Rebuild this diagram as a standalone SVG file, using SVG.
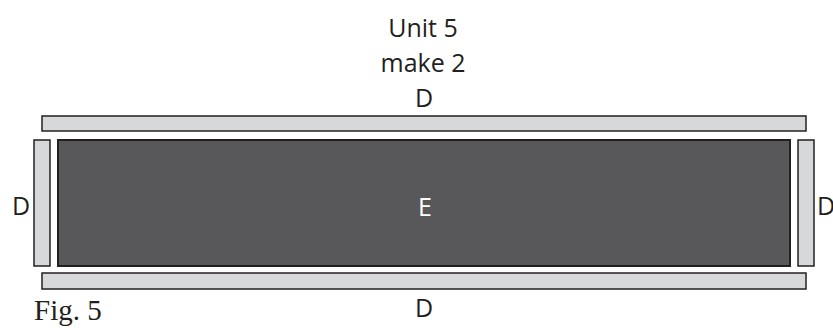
<svg xmlns="http://www.w3.org/2000/svg" width="833" height="328" viewBox="0 0 833 328">
<style>
.bar{fill:#d7d8da;stroke:#231f20;stroke-width:1.5}
.main{fill:#58585a;stroke:#231f20;stroke-width:2}
.lbl{font-family:"Open Sans","Liberation Sans",Arial,sans-serif;font-size:25px;fill:#231f20;text-anchor:middle}
.fig{font-family:"Liberation Serif","Times New Roman",serif;font-size:29px;fill:#231f20}
</style>
<rect width="833" height="328" fill="#ffffff"/>
<g id="title">
<text class="lbl" x="423" y="37">Unit 5</text>
<text class="lbl" x="423" y="72">make 2</text>
</g>
<g id="top-D">
<rect class="bar" x="42" y="116" width="764" height="15"/>
<text class="lbl" x="424" y="107">D</text>
</g>
<g id="left-D">
<rect class="bar" x="34" y="140" width="16" height="126"/>
<text class="lbl" x="21" y="215">D</text>
</g>
<g id="E">
<rect class="main" x="58" y="140" width="732" height="126"/>
<text class="lbl" x="425" y="216" style="fill:#ffffff">E</text>
</g>
<g id="right-D">
<rect class="bar" x="798" y="140" width="16" height="126"/>
<text class="lbl" x="817" y="215" style="text-anchor:start">D</text>
</g>
<g id="bottom-D">
<rect class="bar" x="42" y="273" width="764" height="16"/>
<text class="lbl" x="424" y="317">D</text>
</g>
<g id="connectors"></g>
<text class="fig" x="34" y="320">Fig. 5</text>
</svg>
